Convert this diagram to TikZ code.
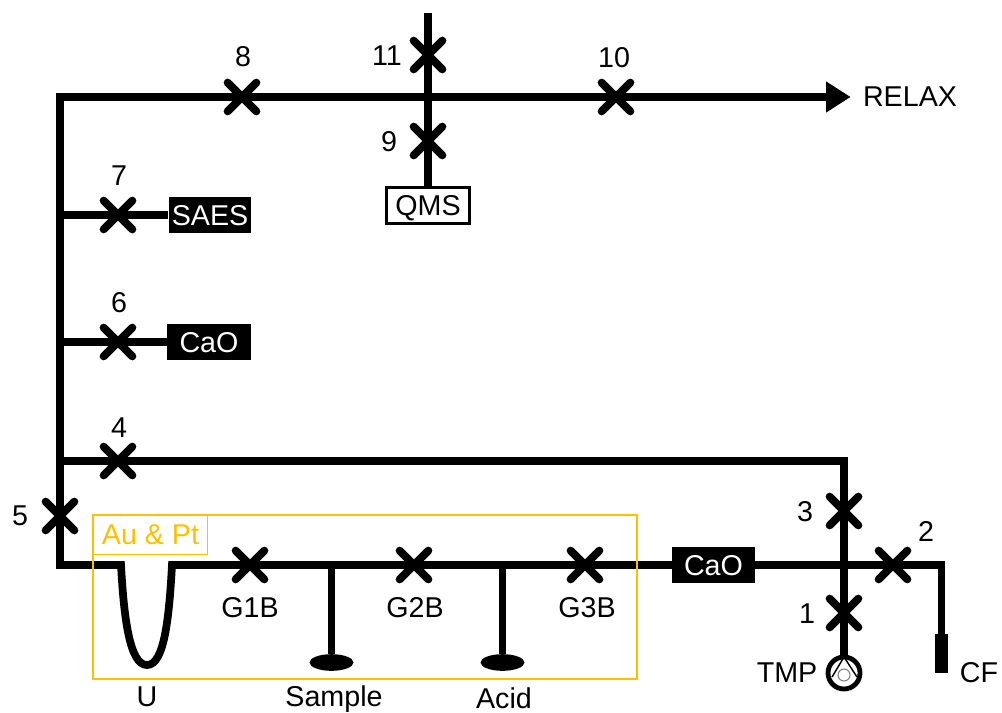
\documentclass[tikz,border=0pt]{standalone}
\usepackage{fontspec}
\setmainfont{Liberation Sans}
\usetikzlibrary{arrows.meta, shapes.misc, shapes.geometric}
\definecolor{gold}{HTML}{FFC000}
\tikzset{%
	pipe/.style={line width=5.8pt},
	valve/.style={draw, cross out, line width=6pt, line cap=round, minimum size=21.5pt, inner sep=0pt, outer sep=0pt},
	lbl/.style={inner sep=0pt, font=\fontsize{21.5}{25}\selectfont},
	getter/.style={fill=black, text=white, inner sep=0pt, text depth=0pt, minimum height=27pt, font=\fontsize{21.5}{25}\selectfont},
	gauge/.style={draw, fill=white, line width=2pt, inner sep=0pt, text depth=0pt, minimum width=62pt, minimum height=27pt, font=\fontsize{21.5}{25}\selectfont},
	vessel/.style={ellipse, fill=black, inner sep=0pt, minimum width=33pt, minimum height=12.5pt},
	goldbox/.style={draw=gold, rectangle, inner sep=0pt}
}
\begin{document}
\begin{tikzpicture}[x=0.75pt, y=-0.75pt]
	\useasboundingbox (0,0) rectangle (1002,713);

	% valves
	\node[valve] (v1) at (844,613) {};
	\node[valve] (v2) at (893,565) {};
	\node[valve] (v3) at (844,511) {};
	\node[valve] (v4) at (118,461) {};
	\node[valve] (v5) at (60,516) {};
	\node[valve] (v6) at (118,342) {};
	\node[valve] (v7) at (118,215) {};
	\node[valve] (v8) at (242,97) {};
	\node[valve] (v9) at (428,141) {};
	\node[valve] (v10) at (616,97) {};
	\node[valve] (v11) at (428,55) {};
	\node[valve] (g1) at (250,565) {};
	\node[valve] (g2) at (414,565) {};
	\node[valve] (g3) at (585,565) {};

	% valve numbers
	\node[lbl] (n1) at (807,614) {1};
	\node[lbl] (n2) at (926,531) {2};
	\node[lbl] (n3) at (805,512) {3};
	\node[lbl] (n4) at (119,428) {4};
	\node[lbl] (n5) at (20,516) {5};
	\node[lbl] (n6) at (119,303) {6};
	\node[lbl] (n7) at (119,176) {7};
	\node[lbl] (n8) at (243,57) {8};
	\node[lbl] (n9) at (389,142) {9};
	\node[lbl] (n10) at (614,58) {10};
	\node[lbl] (n11) at (387,56) {11};
	\node[lbl] (ng1) at (250,608) {G1B};
	\node[lbl] (ng2) at (415,608) {G2B};
	\node[lbl] (ng3) at (587,608) {G3B};

	% boxes
	\node[gauge] (qms) at (428,205.5) {QMS};
	\node[getter, minimum width=62pt] (saes) at (210,215) {SAES};
	\node[getter, minimum width=63pt] (cao1) at (209,342) {CaO};
	\node[getter, minimum width=62pt] (cao2) at (713.5,565) {CaO};

	% ends
	\node[vessel] (sample) at (331.5,662.5) {};
	\node[vessel] (acid) at (502.5,662.5) {};
	\node[draw, circle, fill=white, line width=3.6pt, inner sep=0pt, minimum size=24pt] (tmp) at (844,673) {};
	\node[fill=black, inner sep=0pt, minimum width=9.8pt, minimum height=29pt] (cf) at (941.5,653.5) {};

	% texts
	\node[lbl] (relax) at (910,97) {RELAX};
	\node[lbl] (u) at (147,697) {U};
	\node[lbl] (samplet) at (334,699) {Sample};
	\node[lbl] (acidt) at (504,698) {Acid};
	\node[lbl] (tmpt) at (787,673) {TMP};
	\node[lbl] (cft) at (979,673) {CF};

	% junctions
	\coordinate (tl) at (60,97);
	\coordinate (jt) at (428,97);
	\coordinate (top) at (428,13);
	\coordinate (j7) at (60,215);
	\coordinate (j6) at (60,342);
	\coordinate (j4) at (60,461);
	\coordinate (bl) at (60,565);
	\coordinate (tr) at (844,461);
	\coordinate (br) at (941.5,565);
	\coordinate (ul) at (121,565);
	\coordinate (ub) at (147,665);
	\coordinate (ur) at (172,565);
	\coordinate (js) at (331.5,565);
	\coordinate (ja) at (502.5,565);

	% pipes
	\draw[pipe, shorten >=9pt, -{Triangle[length=18.5pt, width=22pt]}] (cao2) -- (g3.center) -- (g2.center) -- (g1.center) -- (ur) .. controls +(-3,55) and +(17,0) .. (ub) .. controls +(-17,0) and +(3,55) .. (ul) -- (bl) -- (v5.center) -- (tl) -- (v8.center) -- (v10.center) -- (relax);
	\draw[pipe] (top) -- (v11.center) -- (jt) -- (v9.center) -- (qms);
	\draw[pipe] (j7) -- (v7.center) -- (saes);
	\draw[pipe] (j6) -- (v6.center) -- (cao1);
	\draw[pipe] (j4) -- (v4.center) -- (tr) -- (v3.center) -- (v1.center) -- (tmp);
	\draw[pipe] (cao2) -- (v2.center) -- (br) -- (cf);
	\draw[pipe] (js) -- (sample);
	\draw[pipe] (ja) -- (acid);

	% pump
	\node[draw=gray, circle, inner sep=0pt, line width=0.8pt, minimum size=9pt] (rotor) at (844,675) {};
	\draw[line width=1.1pt] (832,677) -- (844,657) -- (857,677);

	% yellow boxes
	\node[goldbox, line width=2.1pt, minimum width=408pt, minimum height=123pt] (aubox) at (365,597) {};
	\node[goldbox, line width=0.9pt, text=gold, minimum width=86pt, minimum height=29pt, font=\fontsize{21.5}{25}\selectfont] (autxt) at (150.5,535) {Au \& Pt};
\end{tikzpicture}
\end{document}
